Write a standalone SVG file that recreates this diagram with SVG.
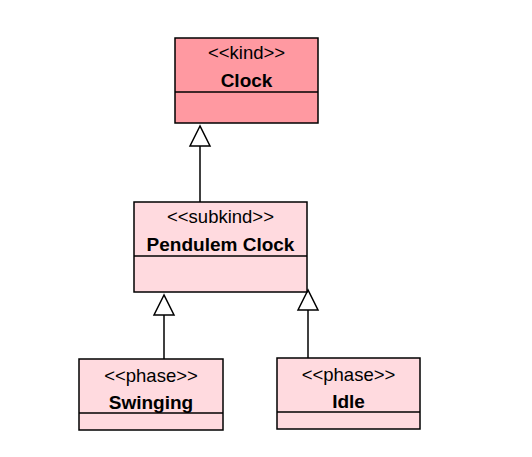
<svg xmlns="http://www.w3.org/2000/svg" width="532" height="457" viewBox="0 0 532 457">
<style>
.box{stroke:#000;stroke-width:1.5}
.kind{fill:#FF99A1}
.sub{fill:#FFDADF}
.st{font-family:"Liberation Sans",Arial,sans-serif;font-size:18.5px;text-anchor:middle}
.nm{font-family:"Liberation Sans",Arial,sans-serif;font-size:19px;font-weight:bold;text-anchor:middle}
.ln{stroke:#000;stroke-width:1.5;fill:none}
.tri{fill:#fff;stroke:#000;stroke-width:1.5}
</style>
<rect width="532" height="457" fill="#fff"/>
<g id="connectors">
<line class="ln" x1="200" y1="202" x2="200" y2="146"/>
<polygon class="tri" points="200,126 190,146 210,146"/>
<line class="ln" x1="164" y1="359" x2="164" y2="315"/>
<polygon class="tri" points="164,295 154,315 174,315"/>
<line class="ln" x1="308" y1="358" x2="308" y2="310"/>
<polygon class="tri" points="308,290 298,310 318,310"/>
</g>
<g id="clock">
<rect class="box kind" x="175" y="38" width="143" height="85"/>
<line class="ln" x1="175" y1="92" x2="318" y2="92"/>
<text class="st" x="246.5" y="59">&lt;&lt;kind&gt;&gt;</text>
<text class="nm" x="246.5" y="87">Clock</text>
</g>
<g id="pendulem">
<rect class="box sub" x="134" y="202" width="173" height="90"/>
<line class="ln" x1="134" y1="256" x2="307" y2="256"/>
<text class="st" x="220.5" y="223">&lt;&lt;subkind&gt;&gt;</text>
<text class="nm" x="220.5" y="251">Pendulem Clock</text>
</g>
<g id="swinging">
<rect class="box sub" x="79" y="359" width="144" height="71"/>
<line class="ln" x1="79" y1="413" x2="223" y2="413"/>
<text class="st" x="151" y="382">&lt;&lt;phase&gt;&gt;</text>
<text class="nm" x="151" y="409">Swinging</text>
</g>
<g id="idle">
<rect class="box sub" x="277" y="358" width="143" height="71"/>
<line class="ln" x1="277" y1="412" x2="420" y2="412"/>
<text class="st" x="348.5" y="381">&lt;&lt;phase&gt;&gt;</text>
<text class="nm" x="348.5" y="408">Idle</text>
</g>
</svg>
